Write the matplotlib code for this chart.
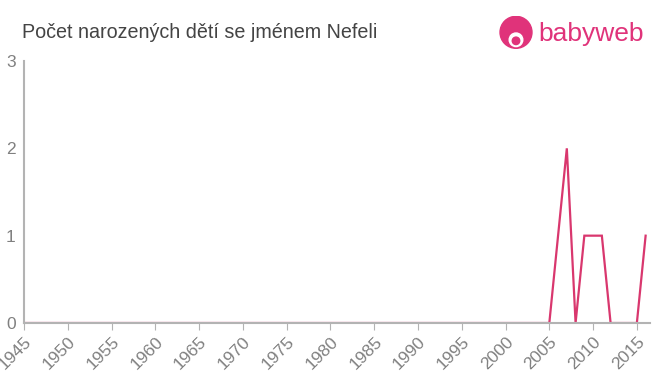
import matplotlib
matplotlib.use("Agg")
import matplotlib.pyplot as plt
from matplotlib.patches import Circle

plt.rcParams["font.family"] = ["Liberation Sans", "DejaVu Sans"]

years = list(range(1945, 2017))
counts = [0] * len(years)
nonzero = {2006: 1, 2007: 2, 2009: 1, 2010: 1, 2011: 1, 2016: 1}
for y, v in nonzero.items():
    counts[years.index(y)] = v

xticks = list(range(1945, 2016, 5))
yticks = [0, 1, 2, 3]

title = "Počet narozených dětí se jménem Nefeli"
line_color = "#d9376e"
axis_color = "#b3b3b3"
text_color = "#808080"

fig = plt.figure(figsize=(6.6, 3.75), dpi=100)
ax = fig.add_axes([24 / 660, 1 - 323 / 375, (650 - 24) / 660, (323 - 61) / 375])

ax.plot(years, counts, color=line_color, linewidth=1.6, solid_joinstyle="miter")
ax.set_xlim(1945, 2016.5)
ax.set_ylim(0, 3)
ax.set_xticks(xticks)
ax.set_xticklabels([str(t) for t in xticks], rotation=45, ha="right",
                   rotation_mode="anchor", fontsize=12.5, color=text_color)
ax.set_yticks(yticks)
ax.set_yticklabels([str(t) for t in yticks], fontsize=12.5, color=text_color)
ax.tick_params(axis="x", length=5, color=axis_color, pad=3)
ax.tick_params(axis="y", length=0, pad=6)
for s in ["top", "right"]:
    ax.spines[s].set_visible(False)
for s in ["left", "bottom"]:
    ax.spines[s].set_color(axis_color)
    ax.spines[s].set_linewidth(1.5)

fig.text(22 / 660, 1 - 32 / 375, title, fontsize=14.2, color="#444444",
         va="center", ha="left")

# logo
lc = "#e0337a"
logo = fig.add_axes([499 / 660, 1 - 50 / 375, 34 / 660, 34 / 375])
logo.set_xlim(0, 1)
logo.set_ylim(0, 1)
logo.set_aspect("equal")
logo.axis("off")
logo.add_patch(Circle((0.5, 0.52), 0.47, color=lc))
logo.add_patch(Circle((0.5, 0.3), 0.2, color="white"))
logo.add_patch(Circle((0.5, 0.27), 0.11, color=lc))
fig.text(538 / 660, 1 - 34 / 375, "babyweb", fontsize=19, color=lc,
         va="center", ha="left")

fig.savefig("out.png", dpi=100)
